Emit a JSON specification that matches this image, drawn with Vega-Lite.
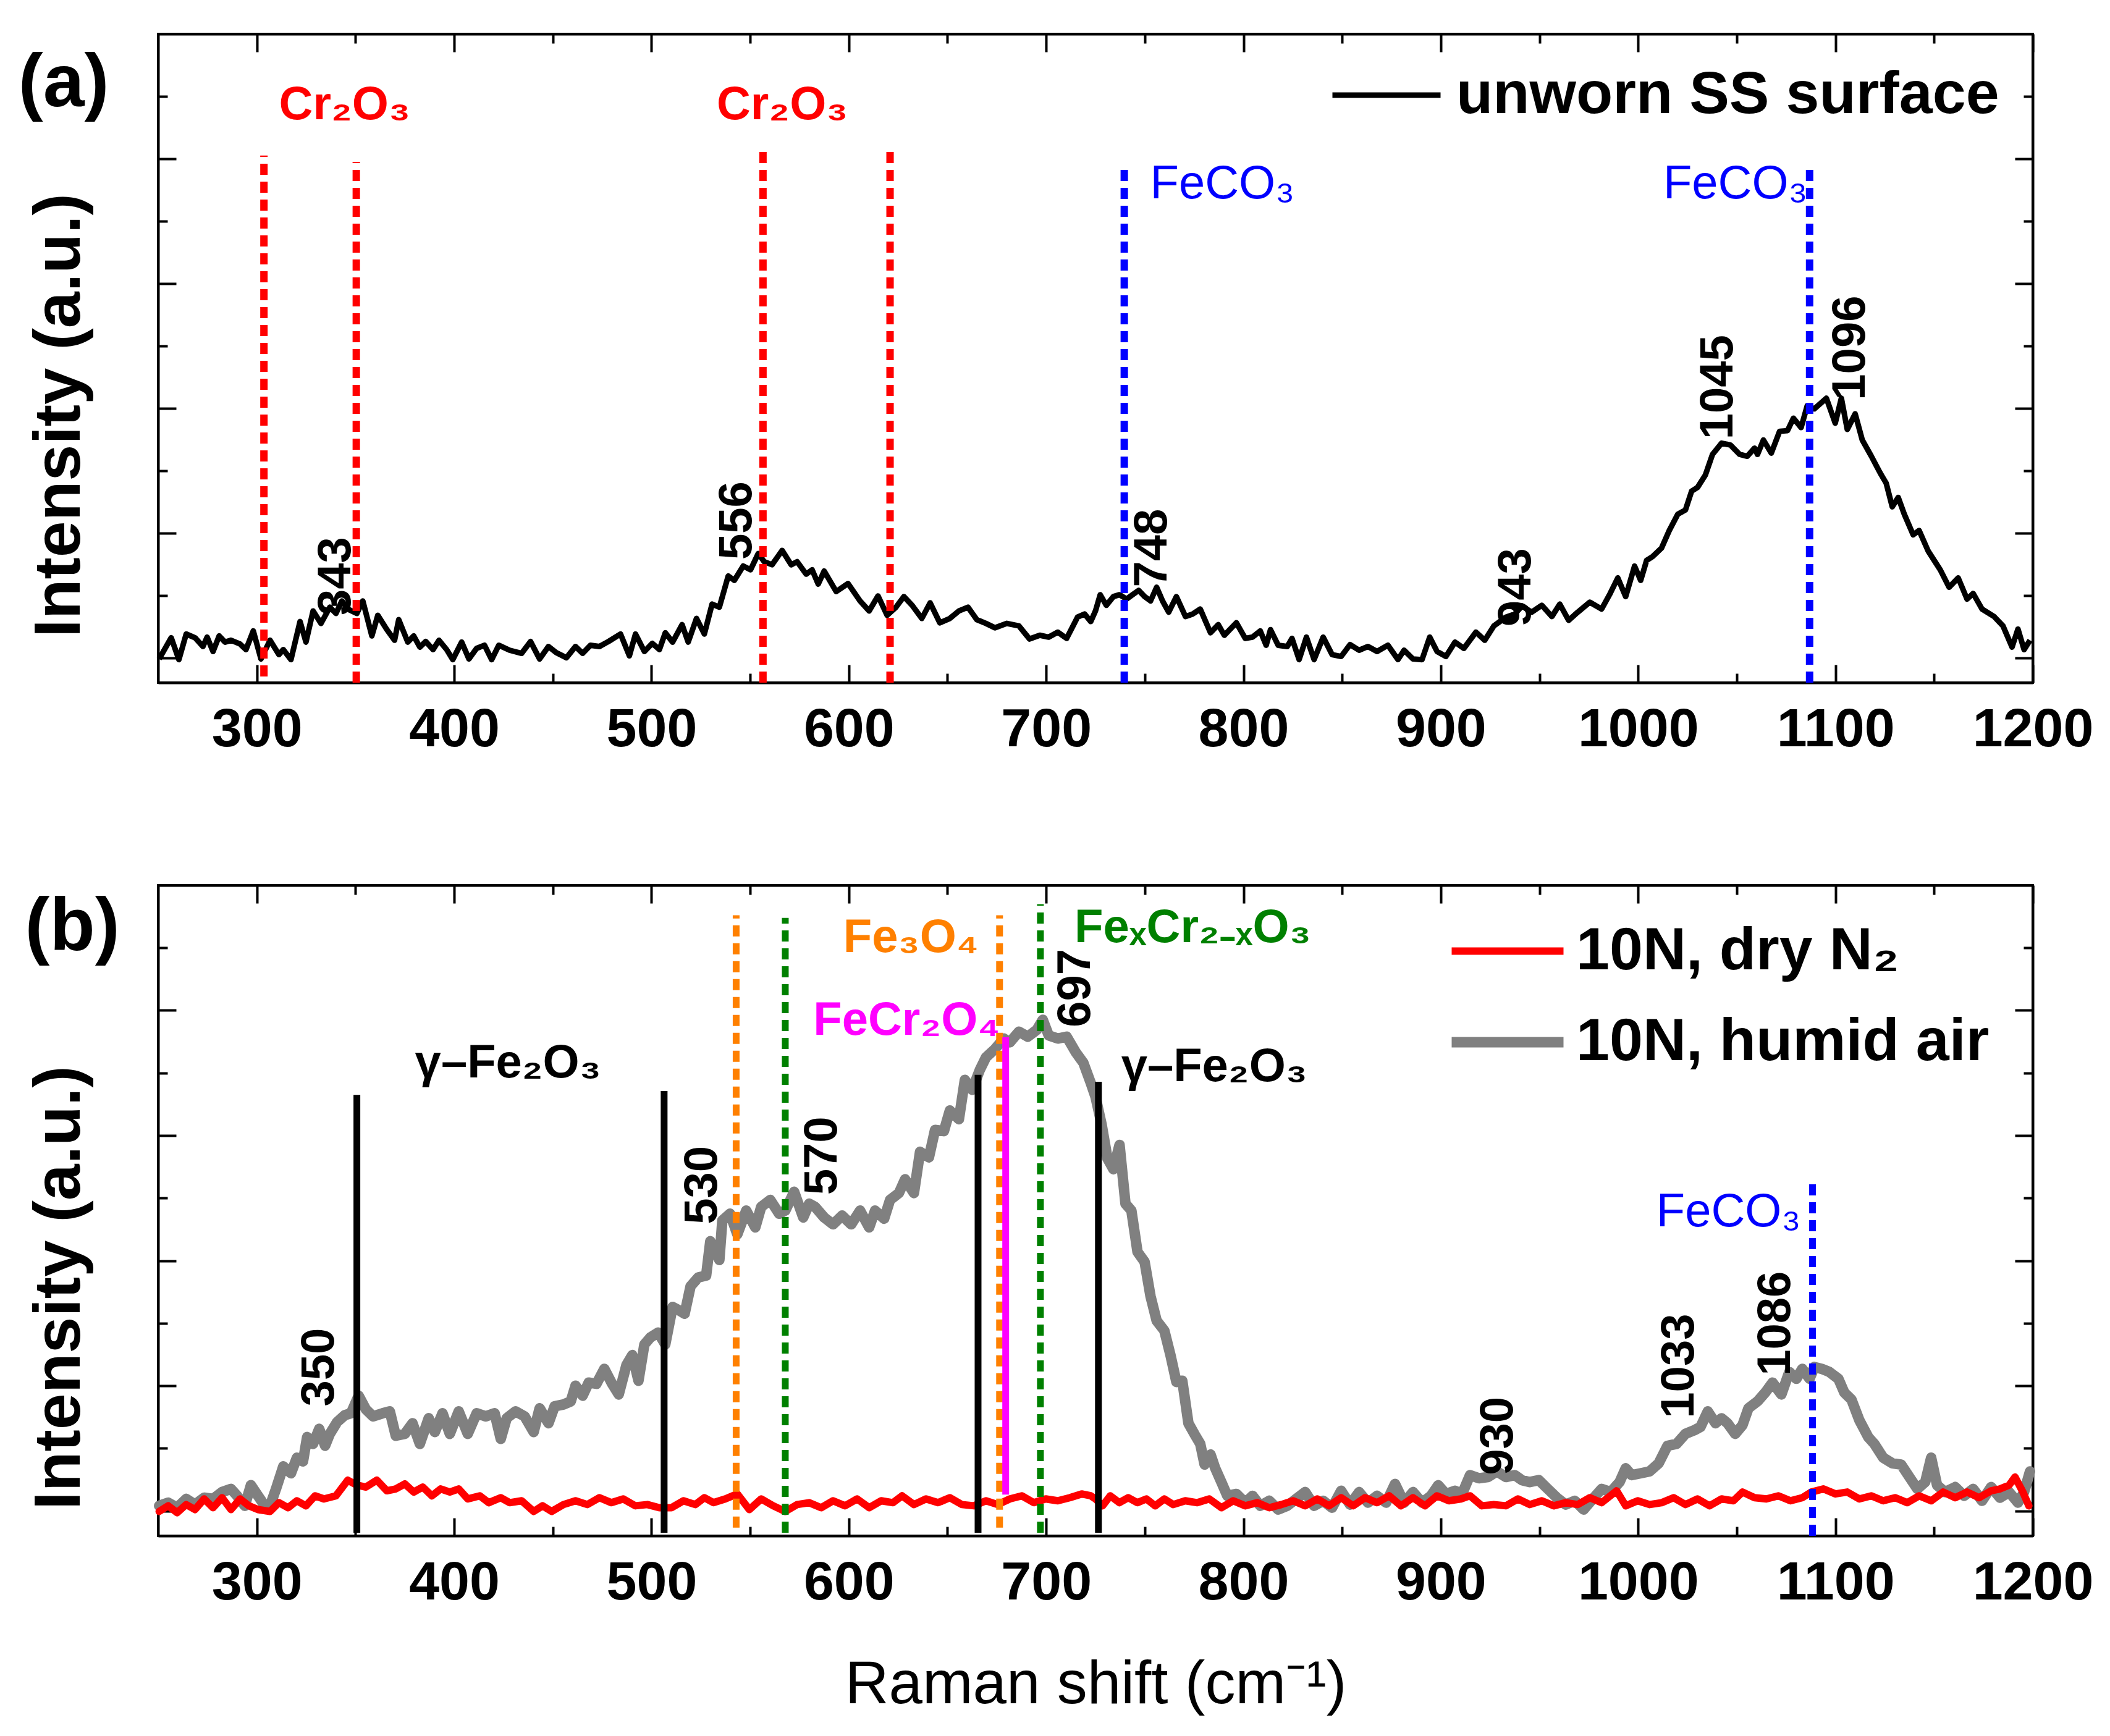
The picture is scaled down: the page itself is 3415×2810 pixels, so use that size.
{
  "$schema": "https://vega.github.io/schema/vega-lite/v6.json",
  "background": "white",
  "padding": {"left": 27, "top": 51, "right": 20, "bottom": 20},
  "autosize": {"type": "pad"},
  "config": {
    "font": "Liberation Sans",
    "view": {"stroke": "black", "strokeWidth": 4},
    "axis": {
      "grid": false,
      "domainColor": "black",
      "domainWidth": 4,
      "tickColor": "black",
      "tickWidth": 4,
      "labelColor": "black",
      "labelFontSize": 88,
      "labelFontWeight": "bold",
      "labelLimit": 1000,
      "titleColor": "black"
    },
    "legend": {"labelColor": "black", "labelFontWeight": "bold", "labelFontSize": 97, "labelLimit": 3000, "padding": 0}
  },
  "datasets": {
    "specA": [
      {"x":250.5,"y":-0.02},{"x":256.6,"y":0.32},{"x":260.5,"y":-0.03},{"x":264.2,"y":0.38},{"x":268.7,"y":0.32},{"x":272.7,"y":0.18},{"x":274.8,"y":0.33},{"x":277.8,"y":0.10},{"x":280.9,"y":0.35},{"x":283.9,"y":0.25},{"x":286.9,"y":0.28},{"x":291.5,"y":0.22},{"x":294.5,"y":0.13},{"x":298.2,"y":0.43},{"x":302.1,"y":-0.02},{"x":306.7,"y":0.28},{"x":311.2,"y":0.05},{"x":313.4,"y":0.13},{"x":317.3,"y":-0.03},{"x":321.9,"y":0.58},{"x":324.9,"y":0.25},{"x":328.5,"y":0.75},{"x":332.5,"y":0.55},{"x":337.0,"y":0.81},{"x":340.1,"y":0.71},{"x":343.1,"y":0.91},{"x":346.1,"y":0.78},{"x":350.7,"y":0.71},{"x":353.7,"y":0.91},{"x":358.3,"y":0.35},{"x":361.3,"y":0.68},{"x":365.9,"y":0.45},{"x":369.8,"y":0.28},{"x":371.9,"y":0.61},{"x":376.5,"y":0.25},{"x":379.5,"y":0.35},{"x":382.6,"y":0.17},{"x":385.6,"y":0.26},{"x":389.3,"y":0.13},{"x":392.3,"y":0.28},{"x":396.2,"y":0.13},{"x":399.3,"y":-0.03},{"x":403.8,"y":0.25},{"x":407.5,"y":-0.02},{"x":411.4,"y":0.15},{"x":415.4,"y":0.20},{"x":419.0,"y":-0.03},{"x":422.6,"y":0.20},{"x":428.1,"y":0.12},{"x":434.2,"y":0.07},{"x":438.7,"y":0.26},{"x":443.3,"y":-0.02},{"x":447.8,"y":0.18},{"x":451.8,"y":0.08},{"x":456.9,"y":0.00},{"x":461.5,"y":0.18},{"x":465.1,"y":0.07},{"x":469.1,"y":0.20},{"x":473.6,"y":0.18},{"x":478.2,"y":0.26},{"x":484.3,"y":0.38},{"x":488.8,"y":0.03},{"x":491.9,"y":0.38},{"x":496.4,"y":0.10},{"x":500.4,"y":0.23},{"x":504.0,"y":0.13},{"x":507.0,"y":0.40},{"x":510.7,"y":0.25},{"x":515.5,"y":0.53},{"x":518.6,"y":0.25},{"x":522.8,"y":0.63},{"x":526.8,"y":0.38},{"x":530.7,"y":0.86},{"x":534.4,"y":0.81},{"x":538.9,"y":1.31},{"x":542.0,"y":1.24},{"x":546.5,"y":1.47},{"x":550.2,"y":1.41},{"x":554.1,"y":1.67},{"x":557.1,"y":1.54},{"x":561.1,"y":1.49},{"x":566.2,"y":1.72},{"x":570.8,"y":1.49},{"x":573.8,"y":1.54},{"x":578.4,"y":1.34},{"x":581.4,"y":1.41},{"x":584.5,"y":1.18},{"x":587.5,"y":1.39},{"x":593.6,"y":1.06},{"x":599.6,"y":1.19},{"x":605.7,"y":0.91},{"x":610.3,"y":0.75},{"x":614.8,"y":0.99},{"x":619.4,"y":0.68},{"x":623.9,"y":0.81},{"x":627.9,"y":0.98},{"x":632.1,"y":0.84},{"x":637.0,"y":0.63},{"x":641.2,"y":0.88},{"x":646.1,"y":0.56},{"x":651.2,"y":0.63},{"x":655.8,"y":0.75},{"x":660.4,"y":0.81},{"x":664.9,"y":0.61},{"x":669.5,"y":0.55},{"x":674.0,"y":0.48},{"x":680.1,"y":0.55},{"x":686.2,"y":0.51},{"x":691.6,"y":0.30},{"x":696.8,"y":0.36},{"x":701.3,"y":0.33},{"x":705.9,"y":0.41},{"x":710.4,"y":0.31},{"x":715.9,"y":0.65},{"x":719.5,"y":0.70},{"x":722.6,"y":0.58},{"x":725.0,"y":0.75},{"x":727.4,"y":1.01},{"x":730.5,"y":0.84},{"x":734.1,"y":0.98},{"x":737.2,"y":1.01},{"x":740.8,"y":0.94},{"x":743.8,"y":1.01},{"x":746.9,"y":1.08},{"x":749.9,"y":0.98},{"x":752.9,"y":0.91},{"x":756.0,"y":1.13},{"x":759.0,"y":0.91},{"x":762.1,"y":0.73},{"x":766.0,"y":0.98},{"x":770.6,"y":0.66},{"x":774.2,"y":0.70},{"x":778.1,"y":0.78},{"x":783.3,"y":0.40},{"x":787.2,"y":0.53},{"x":790.3,"y":0.36},{"x":796.4,"y":0.56},{"x":800.9,"y":0.31},{"x":804.6,"y":0.33},{"x":808.5,"y":0.43},{"x":811.5,"y":0.20},{"x":813.7,"y":0.45},{"x":817.6,"y":0.20},{"x":822.2,"y":0.18},{"x":824.6,"y":0.31},{"x":828.2,"y":-0.03},{"x":831.9,"y":0.33},{"x":835.8,"y":-0.03},{"x":840.4,"y":0.33},{"x":844.9,"y":0.05},{"x":849.5,"y":0.02},{"x":854.0,"y":0.21},{"x":858.6,"y":0.12},{"x":863.1,"y":0.18},{"x":867.7,"y":0.10},{"x":873.2,"y":0.20},{"x":878.3,"y":-0.03},{"x":881.4,"y":0.12},{"x":885.9,"y":-0.02},{"x":890.5,"y":-0.03},{"x":894.4,"y":0.33},{"x":898.1,"y":0.10},{"x":902.6,"y":0.02},{"x":907.2,"y":0.25},{"x":911.7,"y":0.15},{"x":917.8,"y":0.41},{"x":922.3,"y":0.28},{"x":926.9,"y":0.51},{"x":933.0,"y":0.65},{"x":937.5,"y":0.70},{"x":941.2,"y":0.83},{"x":946.0,"y":0.73},{"x":951.2,"y":0.84},{"x":956.3,"y":0.66},{"x":960.3,"y":0.86},{"x":964.8,"y":0.60},{"x":969.4,"y":0.73},{"x":975.5,"y":0.89},{"x":981.5,"y":0.78},{"x":985.5,"y":1.01},{"x":989.7,"y":1.28},{"x":993.7,"y":0.98},{"x":998.2,"y":1.47},{"x":1001.3,"y":1.24},{"x":1004.3,"y":1.56},{"x":1007.3,"y":1.62},{"x":1011.9,"y":1.76},{"x":1015.8,"y":2.04},{"x":1020.1,"y":2.30},{"x":1024.0,"y":2.37},{"x":1027.1,"y":2.67},{"x":1030.1,"y":2.73},{"x":1034.1,"y":2.93},{"x":1037.7,"y":3.26},{"x":1042.3,"y":3.44},{"x":1046.8,"y":3.41},{"x":1051.4,"y":3.26},{"x":1055.3,"y":3.23},{"x":1059.0,"y":3.36},{"x":1060.5,"y":3.26},{"x":1063.5,"y":3.49},{"x":1067.5,"y":3.28},{"x":1071.7,"y":3.63},{"x":1075.7,"y":3.64},{"x":1078.7,"y":3.84},{"x":1082.6,"y":3.69},{"x":1085.7,"y":4.04},{"x":1089.3,"y":3.99},{"x":1095.4,"y":4.16},{"x":1099.9,"y":3.76},{"x":1103.0,"y":4.16},{"x":1106.0,"y":3.66},{"x":1110.0,"y":3.91},{"x":1113.6,"y":3.49},{"x":1118.2,"y":3.23},{"x":1122.7,"y":2.96},{"x":1125.7,"y":2.80},{"x":1128.8,"y":2.42},{"x":1131.8,"y":2.57},{"x":1134.9,"y":2.30},{"x":1139.4,"y":1.97},{"x":1142.4,"y":2.04},{"x":1147.0,"y":1.71},{"x":1153.1,"y":1.41},{"x":1157.6,"y":1.13},{"x":1162.2,"y":1.28},{"x":1166.7,"y":0.94},{"x":1169.8,"y":1.03},{"x":1174.3,"y":0.78},{"x":1180.4,"y":0.66},{"x":1184.9,"y":0.51},{"x":1189.5,"y":0.17},{"x":1192.5,"y":0.46},{"x":1195.6,"y":0.13},{"x":1198.6,"y":0.28}
    ],
    "grayB": [
      {"x":250.5,"y":0.08},{"x":255.1,"y":0.13},{"x":259.6,"y":0.05},{"x":264.2,"y":0.19},{"x":268.7,"y":0.10},{"x":273.3,"y":0.21},{"x":277.8,"y":0.19},{"x":282.4,"y":0.30},{"x":286.9,"y":0.35},{"x":290.0,"y":0.24},{"x":293.9,"y":0.08},{"x":297.0,"y":0.41},{"x":300.6,"y":0.24},{"x":303.6,"y":0.10},{"x":306.7,"y":0.08},{"x":309.7,"y":0.35},{"x":313.4,"y":0.71},{"x":317.3,"y":0.60},{"x":320.3,"y":0.85},{"x":323.4,"y":0.79},{"x":325.5,"y":1.18},{"x":328.5,"y":1.07},{"x":331.6,"y":1.31},{"x":334.6,"y":1.04},{"x":337.0,"y":1.23},{"x":340.7,"y":1.42},{"x":344.6,"y":1.53},{"x":347.7,"y":1.56},{"x":351.6,"y":1.84},{"x":355.3,"y":1.62},{"x":358.9,"y":1.51},{"x":363.8,"y":1.56},{"x":367.4,"y":1.59},{"x":370.4,"y":1.20},{"x":375.0,"y":1.23},{"x":378.9,"y":1.40},{"x":382.6,"y":1.07},{"x":387.1,"y":1.48},{"x":390.2,"y":1.26},{"x":394.1,"y":1.56},{"x":397.8,"y":1.23},{"x":402.3,"y":1.59},{"x":406.9,"y":1.23},{"x":411.4,"y":1.56},{"x":416.0,"y":1.51},{"x":420.5,"y":1.56},{"x":423.6,"y":1.15},{"x":426.6,"y":1.48},{"x":431.1,"y":1.59},{"x":435.7,"y":1.51},{"x":440.3,"y":1.26},{"x":443.3,"y":1.64},{"x":447.8,"y":1.40},{"x":450.9,"y":1.67},{"x":455.4,"y":1.70},{"x":459.1,"y":1.75},{"x":461.5,"y":2.00},{"x":465.1,"y":1.84},{"x":468.2,"y":2.05},{"x":472.1,"y":2.03},{"x":476.1,"y":2.27},{"x":479.7,"y":2.05},{"x":483.4,"y":1.86},{"x":487.3,"y":2.33},{"x":490.3,"y":2.49},{"x":493.4,"y":2.08},{"x":496.4,"y":2.66},{"x":499.4,"y":2.77},{"x":503.4,"y":2.85},{"x":507.0,"y":2.66},{"x":510.7,"y":3.26},{"x":513.7,"y":3.21},{"x":516.8,"y":3.15},{"x":519.8,"y":3.59},{"x":523.7,"y":3.73},{"x":527.7,"y":3.76},{"x":529.8,"y":4.31},{"x":534.4,"y":4.01},{"x":535.9,"y":4.64},{"x":539.8,"y":4.75},{"x":543.5,"y":4.42},{"x":548.0,"y":4.80},{"x":552.6,"y":4.53},{"x":555.6,"y":4.86},{"x":560.2,"y":4.97},{"x":564.7,"y":4.75},{"x":567.8,"y":4.80},{"x":572.3,"y":5.10},{"x":576.9,"y":4.69},{"x":579.9,"y":4.91},{"x":582.9,"y":4.86},{"x":587.5,"y":4.69},{"x":592.0,"y":4.58},{"x":596.6,"y":4.72},{"x":601.2,"y":4.58},{"x":605.7,"y":4.80},{"x":610.3,"y":4.53},{"x":613.3,"y":4.80},{"x":617.9,"y":4.67},{"x":620.9,"y":4.97},{"x":625.4,"y":5.08},{"x":628.5,"y":5.30},{"x":633.0,"y":5.08},{"x":636.1,"y":5.74},{"x":640.6,"y":5.65},{"x":643.7,"y":6.09},{"x":648.2,"y":6.07},{"x":651.2,"y":6.40},{"x":655.8,"y":6.26},{"x":658.8,"y":6.89},{"x":662.5,"y":6.73},{"x":666.4,"y":7.05},{"x":669.5,"y":7.25},{"x":674.0,"y":7.38},{"x":678.6,"y":7.55},{"x":681.6,"y":7.49},{"x":686.2,"y":7.66},{"x":690.7,"y":7.58},{"x":695.3,"y":7.69},{"x":698.3,"y":7.85},{"x":701.3,"y":7.60},{"x":705.9,"y":7.55},{"x":710.4,"y":7.58},{"x":715.0,"y":7.33},{"x":718.9,"y":7.16},{"x":722.6,"y":6.84},{"x":725.0,"y":6.62},{"x":728.1,"y":6.18},{"x":731.1,"y":5.63},{"x":734.1,"y":5.46},{"x":737.2,"y":5.85},{"x":740.2,"y":4.91},{"x":743.2,"y":4.80},{"x":746.3,"y":4.14},{"x":749.9,"y":3.98},{"x":752.9,"y":3.43},{"x":756.0,"y":3.04},{"x":759.9,"y":2.88},{"x":763.0,"y":2.49},{"x":766.0,"y":2.06},{"x":769.0,"y":2.08},{"x":772.1,"y":1.40},{"x":775.1,"y":1.23},{"x":778.1,"y":1.07},{"x":780.3,"y":0.74},{"x":783.3,"y":0.90},{"x":785.7,"y":0.68},{"x":788.8,"y":0.46},{"x":791.8,"y":0.24},{"x":796.4,"y":0.27},{"x":800.9,"y":0.13},{"x":804.6,"y":0.24},{"x":808.5,"y":0.08},{"x":813.1,"y":0.16},{"x":817.6,"y":0.02},{"x":822.2,"y":0.08},{"x":826.7,"y":0.19},{"x":831.3,"y":0.30},{"x":835.8,"y":0.08},{"x":840.4,"y":0.16},{"x":844.9,"y":0.05},{"x":849.5,"y":0.32},{"x":854.0,"y":0.10},{"x":858.6,"y":0.30},{"x":863.1,"y":0.13},{"x":867.7,"y":0.24},{"x":872.3,"y":0.13},{"x":876.8,"y":0.43},{"x":881.4,"y":0.13},{"x":885.9,"y":0.30},{"x":890.5,"y":0.13},{"x":895.0,"y":0.24},{"x":898.7,"y":0.41},{"x":902.6,"y":0.27},{"x":907.2,"y":0.32},{"x":910.8,"y":0.27},{"x":914.8,"y":0.57},{"x":919.3,"y":0.52},{"x":923.9,"y":0.54},{"x":928.4,"y":0.63},{"x":933.0,"y":0.54},{"x":937.5,"y":0.57},{"x":941.2,"y":0.49},{"x":945.1,"y":0.46},{"x":949.7,"y":0.49},{"x":954.2,"y":0.35},{"x":958.8,"y":0.21},{"x":963.3,"y":0.10},{"x":967.9,"y":0.16},{"x":972.4,"y":0.02},{"x":977.0,"y":0.19},{"x":981.5,"y":0.35},{"x":986.1,"y":0.30},{"x":990.6,"y":0.46},{"x":993.7,"y":0.68},{"x":996.7,"y":0.57},{"x":1001.3,"y":0.60},{"x":1005.8,"y":0.63},{"x":1010.4,"y":0.76},{"x":1014.9,"y":1.04},{"x":1019.5,"y":1.07},{"x":1024.0,"y":1.23},{"x":1028.6,"y":1.29},{"x":1031.6,"y":1.34},{"x":1035.3,"y":1.59},{"x":1039.2,"y":1.40},{"x":1042.3,"y":1.48},{"x":1045.3,"y":1.40},{"x":1049.2,"y":1.23},{"x":1052.9,"y":1.37},{"x":1055.9,"y":1.64},{"x":1060.5,"y":1.75},{"x":1064.4,"y":1.89},{"x":1068.1,"y":2.05},{"x":1072.6,"y":1.86},{"x":1076.6,"y":2.22},{"x":1080.2,"y":2.11},{"x":1083.2,"y":2.27},{"x":1086.9,"y":2.11},{"x":1089.3,"y":2.30},{"x":1093.0,"y":2.27},{"x":1096.9,"y":2.22},{"x":1101.5,"y":2.11},{"x":1104.5,"y":1.89},{"x":1108.1,"y":1.78},{"x":1112.1,"y":1.45},{"x":1116.6,"y":1.18},{"x":1119.7,"y":1.07},{"x":1124.2,"y":0.85},{"x":1128.8,"y":0.76},{"x":1133.3,"y":0.74},{"x":1137.9,"y":0.52},{"x":1141.5,"y":0.35},{"x":1145.5,"y":0.46},{"x":1148.5,"y":0.85},{"x":1151.5,"y":0.41},{"x":1155.5,"y":0.30},{"x":1160.7,"y":0.38},{"x":1165.2,"y":0.24},{"x":1169.8,"y":0.35},{"x":1174.3,"y":0.16},{"x":1178.9,"y":0.38},{"x":1183.4,"y":0.21},{"x":1188.0,"y":0.30},{"x":1192.5,"y":0.13},{"x":1195.6,"y":0.30},{"x":1198.6,"y":0.63}
    ],
    "redB": [
      {"x":250.5,"y":-0.01},{"x":255.1,"y":0.08},{"x":259.6,"y":-0.03},{"x":264.2,"y":0.10},{"x":268.7,"y":0.02},{"x":273.3,"y":0.19},{"x":277.8,"y":0.05},{"x":282.4,"y":0.21},{"x":286.9,"y":0.02},{"x":291.5,"y":0.19},{"x":296.0,"y":0.08},{"x":300.6,"y":0.02},{"x":306.7,"y":-0.01},{"x":311.2,"y":0.13},{"x":315.8,"y":0.05},{"x":320.3,"y":0.16},{"x":324.9,"y":0.08},{"x":329.5,"y":0.24},{"x":334.0,"y":0.19},{"x":340.1,"y":0.24},{"x":346.1,"y":0.49},{"x":350.7,"y":0.41},{"x":355.3,"y":0.38},{"x":360.8,"y":0.49},{"x":365.9,"y":0.32},{"x":370.4,"y":0.35},{"x":375.0,"y":0.43},{"x":379.5,"y":0.30},{"x":384.1,"y":0.38},{"x":388.7,"y":0.24},{"x":393.2,"y":0.35},{"x":397.8,"y":0.30},{"x":402.3,"y":0.35},{"x":406.9,"y":0.19},{"x":413.0,"y":0.24},{"x":417.5,"y":0.13},{"x":423.6,"y":0.21},{"x":428.1,"y":0.13},{"x":434.2,"y":0.16},{"x":440.3,"y":-0.01},{"x":444.8,"y":0.08},{"x":449.4,"y":-0.01},{"x":455.4,"y":0.10},{"x":461.5,"y":0.16},{"x":467.5,"y":0.10},{"x":473.6,"y":0.21},{"x":479.7,"y":0.13},{"x":485.7,"y":0.19},{"x":491.8,"y":0.08},{"x":497.9,"y":0.10},{"x":504.0,"y":0.05},{"x":510.1,"y":0.05},{"x":516.2,"y":0.16},{"x":522.2,"y":0.10},{"x":526.8,"y":0.21},{"x":531.4,"y":0.13},{"x":537.4,"y":0.19},{"x":543.5,"y":0.27},{"x":549.6,"y":0.02},{"x":555.6,"y":0.19},{"x":561.7,"y":0.08},{"x":567.8,"y":-0.01},{"x":573.8,"y":0.10},{"x":579.9,"y":0.13},{"x":586.0,"y":0.05},{"x":592.0,"y":0.16},{"x":598.1,"y":0.08},{"x":604.2,"y":0.19},{"x":610.3,"y":0.05},{"x":616.4,"y":0.16},{"x":622.4,"y":0.13},{"x":627.0,"y":0.24},{"x":633.0,"y":0.10},{"x":639.1,"y":0.19},{"x":645.2,"y":0.13},{"x":651.2,"y":0.21},{"x":657.3,"y":0.10},{"x":663.4,"y":0.08},{"x":669.5,"y":0.16},{"x":675.5,"y":0.10},{"x":681.6,"y":0.19},{"x":687.7,"y":0.24},{"x":693.8,"y":0.13},{"x":699.8,"y":0.19},{"x":705.9,"y":0.16},{"x":712.0,"y":0.21},{"x":718.0,"y":0.27},{"x":722.6,"y":0.24},{"x":725.0,"y":0.19},{"x":728.6,"y":0.08},{"x":732.5,"y":0.24},{"x":737.1,"y":0.13},{"x":741.6,"y":0.21},{"x":746.2,"y":0.13},{"x":750.8,"y":0.19},{"x":755.3,"y":0.08},{"x":759.9,"y":0.19},{"x":764.4,"y":0.10},{"x":770.5,"y":0.16},{"x":776.6,"y":0.13},{"x":782.7,"y":0.19},{"x":788.8,"y":0.05},{"x":794.8,"y":0.16},{"x":800.9,"y":0.08},{"x":807.0,"y":0.13},{"x":813.1,"y":0.05},{"x":819.2,"y":0.10},{"x":825.2,"y":0.16},{"x":831.3,"y":0.08},{"x":837.4,"y":0.19},{"x":843.4,"y":0.08},{"x":849.5,"y":0.21},{"x":855.6,"y":0.08},{"x":861.6,"y":0.21},{"x":867.7,"y":0.13},{"x":873.8,"y":0.24},{"x":879.8,"y":0.08},{"x":885.9,"y":0.21},{"x":892.0,"y":0.08},{"x":898.1,"y":0.24},{"x":904.1,"y":0.16},{"x":910.2,"y":0.19},{"x":914.8,"y":0.24},{"x":920.8,"y":0.08},{"x":926.9,"y":0.10},{"x":933.0,"y":0.08},{"x":939.1,"y":0.19},{"x":945.1,"y":0.10},{"x":951.2,"y":0.16},{"x":957.3,"y":0.08},{"x":963.3,"y":0.13},{"x":969.4,"y":0.10},{"x":975.5,"y":0.21},{"x":981.5,"y":0.13},{"x":989.1,"y":0.32},{"x":993.7,"y":0.08},{"x":999.8,"y":0.16},{"x":1005.8,"y":0.10},{"x":1011.9,"y":0.13},{"x":1018.0,"y":0.21},{"x":1024.0,"y":0.10},{"x":1030.1,"y":0.19},{"x":1036.2,"y":0.08},{"x":1042.3,"y":0.19},{"x":1048.3,"y":0.16},{"x":1052.9,"y":0.30},{"x":1059.0,"y":0.21},{"x":1065.0,"y":0.19},{"x":1071.1,"y":0.24},{"x":1077.2,"y":0.16},{"x":1083.2,"y":0.21},{"x":1087.8,"y":0.30},{"x":1093.9,"y":0.35},{"x":1100.0,"y":0.27},{"x":1106.0,"y":0.30},{"x":1112.1,"y":0.19},{"x":1118.2,"y":0.24},{"x":1124.2,"y":0.16},{"x":1130.3,"y":0.21},{"x":1136.4,"y":0.13},{"x":1142.4,"y":0.24},{"x":1148.5,"y":0.16},{"x":1154.6,"y":0.30},{"x":1160.7,"y":0.21},{"x":1166.7,"y":0.30},{"x":1172.8,"y":0.21},{"x":1178.9,"y":0.32},{"x":1183.4,"y":0.35},{"x":1188.0,"y":0.41},{"x":1191.0,"y":0.54},{"x":1195.0,"y":0.30},{"x":1198.0,"y":0.08}
    ],
    "refA": [
      {"x":303.6,"y1":-0.3,"y2":8.05,"ph":"Cr2O3"},
      {"x":350.4,"y1":-0.4,"y2":7.95,"ph":"Cr2O3"},
      {"x":556.5,"y1":-0.4,"y2":8.12,"ph":"Cr2O3"},
      {"x":620.9,"y1":-0.4,"y2":8.14,"ph":"Cr2O3"},
      {"x":739.6,"y1":-0.4,"y2":7.92,"ph":"FeCO3"},
      {"x":1086.9,"y1":-0.4,"y2":7.82,"ph":"FeCO3"}
    ],
    "labA": [
      {"x":344.5,"y":8.63,"t":"Cr₂O₃","ph":"Cr2O3"},
      {"x":566.3,"y":8.63,"t":"Cr₂O₃","ph":"Cr2O3"}
    ],
    "labA2": [
      {"x":789.3,"y":7.37,"t":"FeCO₃","ph":"FeCO3"},
      {"x":1049.3,"y":7.37,"t":"FeCO₃","ph":"FeCO3"}
    ],
    "peakA": [
      {"x":340.1,"y":0.68,"t":"343"},
      {"x":543.5,"y":1.57,"t":"556"},
      {"x":753.9,"y":1.13,"t":"748"},
      {"x":938.1,"y":0.5,"t":"943"},
      {"x":1040.6,"y":3.5,"t":"1045"},
      {"x":1107.5,"y":4.13,"t":"1096"}
    ],
    "dotB": [
      {"x":542.9,"y1":-0.27,"y2":9.52,"ph":"Fe3O4"},
      {"x":676.4,"y1":-0.27,"y2":9.52,"ph":"Fe3O4"},
      {"x":567.8,"y1":-0.35,"y2":9.48,"ph":"FexCr2-xO3"},
      {"x":697.1,"y1":-0.35,"y2":9.7,"ph":"FexCr2-xO3"},
      {"x":1088.4,"y1":-0.4,"y2":5.3,"ph":"FeCO3"}
    ],
    "solidB": [
      {"x":350.7,"y1":-0.35,"y2":6.65,"ph":"gFe2O3"},
      {"x":506.4,"y1":-0.35,"y2":6.71,"ph":"gFe2O3"},
      {"x":665.5,"y1":-0.35,"y2":6.97,"ph":"gFe2O3"},
      {"x":726.5,"y1":-0.35,"y2":6.86,"ph":"gFe2O3"},
      {"x":679.5,"y1":0.26,"y2":7.57,"ph":"FeCr2O4"}
    ],
    "labB": [
      {"x":427.3,"y":6.93,"t":"γ–Fe₂O₃","ph":"gFe2O3"},
      {"x":785.2,"y":6.87,"t":"γ–Fe₂O₃","ph":"gFe2O3"},
      {"x":631.5,"y":8.93,"t":"Fe₃O₄","ph":"Fe3O4"},
      {"x":629.3,"y":7.61,"t":"FeCr₂O₄","ph":"FeCr2O4"},
      {"x":774.3,"y":9.09,"t":"FeₓCr₂₋ₓO₃","ph":"FexCr2-xO3"}
    ],
    "labB2": [
      {"x":1045.8,"y":4.55,"t":"FeCO₃","ph":"FeCO3"}
    ],
    "peakB": [
      {"x":331.6,"y":1.67,"t":"350"},
      {"x":525.9,"y":4.58,"t":"530"},
      {"x":586.6,"y":5.05,"t":"570"},
      {"x":715.1,"y":7.73,"t":"697"},
      {"x":929.0,"y":0.57,"t":"930"},
      {"x":1021.0,"y":1.48,"t":"1033"},
      {"x":1069.6,"y":2.16,"t":"1086"}
    ]
  },
  "bounds": "flush",
  "spacing": 328,
  "resolve": {
    "scale": {"color": "independent", "stroke": "independent", "fill": "independent", "strokeWidth": "independent"},
    "legend": {"color": "independent", "strokeWidth": "independent"}
  },
  "vconcat": [
    {
      "width": 3034,
      "height": 1050,
      "resolve": {"axis": {"x": "independent", "y": "independent"}},
      "layer": [
        {
          "data": {"name": "specA"},
          "mark": {"type": "line", "strokeJoin": "round"},
          "encoding": {
            "x": {
              "field": "x", "type": "quantitative",
              "scale": {"domain": [250, 1200], "nice": false, "zero": false},
              "axis": {
                "orient": "bottom", "title": null,
                "values": [300,350,400,450,500,550,600,650,700,750,800,850,900,950,1000,1050,1100,1150,1200],
                "format": "d",
                "labelExpr": "datum.value % 100 === 0 ? datum.label : ''",
                "tickSize": {"condition": {"test": "datum.value % 100 === 0", "value": -29}, "value": -15},
                "labelPadding": 61, "labelFlush": false, "labelOverlap": false
              }
            },
            "y": {
              "field": "y", "type": "quantitative",
              "scale": {"domain": [-0.4, 10], "nice": false, "zero": false},
              "axis": {
                "orient": "left", "title": "Intensity (a.u.)",
                "values": [0,1,2,3,4,5,6,7,8,9], "labels": false,
                "tickSize": {"condition": {"test": "datum.value % 2 === 0", "value": -29}, "value": -15},
                "titleFontSize": 106, "titleFontWeight": "bold", "titleAngle": 270,
                "titleBaseline": "alphabetic", "titleAlign": "center", "titleX": -128, "titleY": 617
              }
            },
            "color": {
              "datum": "unworn SS surface", "type": "nominal",
              "scale": {"domain": ["unworn SS surface"], "range": ["#000000"]},
              "legend": {
                "orient": "none", "legendX": 1896, "legendY": 7, "title": null,
                "symbolType": "stroke", "symbolSize": 30625, "symbolStrokeWidth": 9, "labelOffset": 21
              }
            },
            "strokeWidth": {
              "datum": "unworn SS surface", "type": "nominal",
              "scale": {"type": "ordinal", "domain": ["unworn SS surface"], "range": [9]},
              "legend": {
                "orient": "none", "legendX": 1896, "legendY": 7, "title": null,
                "symbolType": "stroke", "symbolSize": 30625, "symbolStrokeWidth": 9, "labelOffset": 21
              }
            }
          }
        },
        {
          "data": {"name": "refA"},
          "mark": {"type": "rule", "strokeWidth": 12, "strokeDash": [18, 11]},
          "encoding": {
            "x": {
              "field": "x", "type": "quantitative",
              "axis": {
                "orient": "top", "title": null, "labels": false,
                "values": [300,350,400,450,500,550,600,650,700,750,800,850,900,950,1000,1050,1100,1150,1200],
                "tickSize": {"condition": {"test": "datum.value % 100 === 0", "value": -29}, "value": -15}
              }
            },
            "y": {
              "field": "y1", "type": "quantitative",
              "axis": {
                "orient": "right", "title": null, "labels": false,
                "values": [0,1,2,3,4,5,6,7,8,9],
                "tickSize": {"condition": {"test": "datum.value % 2 === 0", "value": -29}, "value": -15}
              }
            },
            "y2": {"field": "y2"},
            "stroke": {"field": "ph", "type": "nominal", "scale": {"domain": ["Cr2O3", "FeCO3"], "range": ["#FF0000", "#0000FF"]}, "legend": null}
          }
        },
        {
          "data": {"name": "labA"},
          "mark": {"type": "text", "fontSize": 76, "fontWeight": "bold", "align": "center", "baseline": "alphabetic"},
          "encoding": {
            "x": {"field": "x", "type": "quantitative", "axis": null},
            "y": {"field": "y", "type": "quantitative", "axis": null},
            "text": {"field": "t"},
            "fill": {"field": "ph", "type": "nominal", "scale": {"domain": ["Cr2O3", "FeCO3"], "range": ["#FF0000", "#0000FF"]}, "legend": null}
          }
        },
        {
          "data": {"name": "labA2"},
          "mark": {"type": "text", "fontSize": 76, "fontWeight": "normal", "align": "center", "baseline": "alphabetic"},
          "encoding": {
            "x": {"field": "x", "type": "quantitative", "axis": null},
            "y": {"field": "y", "type": "quantitative", "axis": null},
            "text": {"field": "t"},
            "fill": {"field": "ph", "type": "nominal", "scale": {"domain": ["Cr2O3", "FeCO3"], "range": ["#FF0000", "#0000FF"]}, "legend": null}
          }
        },
        {
          "data": {"name": "peakA"},
          "mark": {"type": "text", "fontSize": 76, "fontWeight": "bold", "angle": 270, "align": "left", "baseline": "middle", "color": "#000000"},
          "encoding": {
            "x": {"field": "x", "type": "quantitative", "axis": null},
            "y": {"field": "y", "type": "quantitative", "axis": null},
            "text": {"field": "t"}
          }
        },
        {
          "data": {"values": [{"x": 202.1, "y": 9.2, "t": "(a)"}]},
          "mark": {"type": "text", "fontSize": 120, "fontWeight": "bold", "align": "center", "baseline": "middle", "color": "#000000"},
          "encoding": {
            "x": {"field": "x", "type": "quantitative", "axis": null},
            "y": {"field": "y", "type": "quantitative", "axis": null},
            "text": {"field": "t"}
          }
        }
      ]
    },
    {
      "width": 3034,
      "height": 1053,
      "resolve": {"axis": {"x": "independent", "y": "independent"}},
      "layer": [
        {
          "data": {"name": "grayB"},
          "mark": {"type": "line", "strokeJoin": "round", "strokeCap": "round"},
          "encoding": {
            "x": {
              "field": "x", "type": "quantitative",
              "scale": {"domain": [250, 1200], "nice": false, "zero": false},
              "axis": {
                "orient": "bottom", "title": "Raman shift (cm⁻¹)",
                "values": [300,350,400,450,500,550,600,650,700,750,800,850,900,950,1000,1050,1100,1150,1200],
                "format": "d",
                "labelExpr": "datum.value % 100 === 0 ? datum.label : ''",
                "tickSize": {"condition": {"test": "datum.value % 100 === 0", "value": -29}, "value": -15},
                "labelPadding": 61, "labelFlush": false, "labelOverlap": false,
                "titleFontSize": 98, "titleFontWeight": "normal", "titleBaseline": "alphabetic", "titleY": 270
              }
            },
            "y": {
              "field": "y", "type": "quantitative",
              "scale": {"domain": [-0.4, 10], "nice": false, "zero": false},
              "axis": {
                "orient": "left", "title": "Intensity (a.u.)",
                "values": [0,1,2,3,4,5,6,7,8,9], "labels": false,
                "tickSize": {"condition": {"test": "datum.value % 2 === 0", "value": -29}, "value": -15},
                "titleFontSize": 106, "titleFontWeight": "bold", "titleAngle": 270,
                "titleBaseline": "alphabetic", "titleAlign": "center", "titleX": -128, "titleY": 651
              }
            },
            "color": {
              "datum": "10N, humid air", "type": "nominal",
              "scale": {"domain": ["10N, dry N₂", "10N, humid air"], "range": ["#FF0000", "#808080"]},
              "legend": {
                "orient": "none", "legendX": 2085, "legendY": 10, "title": null,
                "symbolType": "stroke", "symbolSize": 32761, "labelOffset": 12, "rowPadding": 0
              }
            },
            "strokeWidth": {
              "datum": "10N, humid air", "type": "nominal",
              "scale": {"type": "ordinal", "domain": ["10N, dry N₂", "10N, humid air"], "range": [12, 17]},
              "legend": {
                "orient": "none", "legendX": 2085, "legendY": 10, "title": null,
                "symbolType": "stroke", "symbolSize": 32761, "labelOffset": 12, "rowPadding": 0
              }
            }
          }
        },
        {
          "data": {"name": "redB"},
          "mark": {"type": "line", "strokeJoin": "round", "strokeCap": "round"},
          "encoding": {
            "x": {"field": "x", "type": "quantitative", "axis": null},
            "y": {"field": "y", "type": "quantitative", "axis": null},
            "color": {
              "datum": "10N, dry N₂", "type": "nominal",
              "scale": {"domain": ["10N, dry N₂", "10N, humid air"], "range": ["#FF0000", "#808080"]},
              "legend": {
                "orient": "none", "legendX": 2085, "legendY": 10, "title": null,
                "symbolType": "stroke", "symbolSize": 32761, "labelOffset": 12, "rowPadding": 0
              }
            },
            "strokeWidth": {
              "datum": "10N, dry N₂", "type": "nominal",
              "scale": {"type": "ordinal", "domain": ["10N, dry N₂", "10N, humid air"], "range": [12, 17]},
              "legend": {
                "orient": "none", "legendX": 2085, "legendY": 10, "title": null,
                "symbolType": "stroke", "symbolSize": 32761, "labelOffset": 12, "rowPadding": 0
              }
            }
          }
        },
        {
          "data": {"name": "dotB"},
          "mark": {"type": "rule", "strokeWidth": 11, "strokeDash": [18, 11]},
          "encoding": {
            "x": {
              "field": "x", "type": "quantitative",
              "axis": {
                "orient": "top", "title": null, "labels": false,
                "values": [300,350,400,450,500,550,600,650,700,750,800,850,900,950,1000,1050,1100,1150,1200],
                "tickSize": {"condition": {"test": "datum.value % 100 === 0", "value": -29}, "value": -15}
              }
            },
            "y": {
              "field": "y1", "type": "quantitative",
              "axis": {
                "orient": "right", "title": null, "labels": false,
                "values": [0,1,2,3,4,5,6,7,8,9],
                "tickSize": {"condition": {"test": "datum.value % 2 === 0", "value": -29}, "value": -15}
              }
            },
            "y2": {"field": "y2"},
            "stroke": {"field": "ph", "type": "nominal", "scale": {"domain": ["gFe2O3", "Fe3O4", "FeCr2O4", "FexCr2-xO3", "FeCO3"], "range": ["#000000", "#FF8000", "#FF00FF", "#008000", "#0000FF"]}, "legend": null}
          }
        },
        {
          "data": {"name": "solidB"},
          "mark": {"type": "rule", "strokeWidth": 11},
          "encoding": {
            "x": {"field": "x", "type": "quantitative", "axis": null},
            "y": {"field": "y1", "type": "quantitative", "axis": null},
            "y2": {"field": "y2"},
            "stroke": {"field": "ph", "type": "nominal", "scale": {"domain": ["gFe2O3", "Fe3O4", "FeCr2O4", "FexCr2-xO3", "FeCO3"], "range": ["#000000", "#FF8000", "#FF00FF", "#008000", "#0000FF"]}, "legend": null}
          }
        },
        {
          "data": {"name": "labB"},
          "mark": {"type": "text", "fontSize": 76, "fontWeight": "bold", "align": "center", "baseline": "alphabetic"},
          "encoding": {
            "x": {"field": "x", "type": "quantitative", "axis": null},
            "y": {"field": "y", "type": "quantitative", "axis": null},
            "text": {"field": "t"},
            "fill": {"field": "ph", "type": "nominal", "scale": {"domain": ["gFe2O3", "Fe3O4", "FeCr2O4", "FexCr2-xO3", "FeCO3"], "range": ["#000000", "#FF8000", "#FF00FF", "#008000", "#0000FF"]}, "legend": null}
          }
        },
        {
          "data": {"name": "labB2"},
          "mark": {"type": "text", "fontSize": 76, "fontWeight": "normal", "align": "center", "baseline": "alphabetic"},
          "encoding": {
            "x": {"field": "x", "type": "quantitative", "axis": null},
            "y": {"field": "y", "type": "quantitative", "axis": null},
            "text": {"field": "t"},
            "fill": {"field": "ph", "type": "nominal", "scale": {"domain": ["gFe2O3", "Fe3O4", "FeCr2O4", "FexCr2-xO3", "FeCO3"], "range": ["#000000", "#FF8000", "#FF00FF", "#008000", "#0000FF"]}, "legend": null}
          }
        },
        {
          "data": {"name": "peakB"},
          "mark": {"type": "text", "fontSize": 76, "fontWeight": "bold", "angle": 270, "align": "left", "baseline": "middle", "color": "#000000"},
          "encoding": {
            "x": {"field": "x", "type": "quantitative", "axis": null},
            "y": {"field": "y", "type": "quantitative", "axis": null},
            "text": {"field": "t"}
          }
        },
        {
          "data": {"values": [{"x": 206.5, "y": 9.32, "t": "(b)"}]},
          "mark": {"type": "text", "fontSize": 120, "fontWeight": "bold", "align": "center", "baseline": "middle", "color": "#000000"},
          "encoding": {
            "x": {"field": "x", "type": "quantitative", "axis": null},
            "y": {"field": "y", "type": "quantitative", "axis": null},
            "text": {"field": "t"}
          }
        }
      ]
    }
  ]
}
